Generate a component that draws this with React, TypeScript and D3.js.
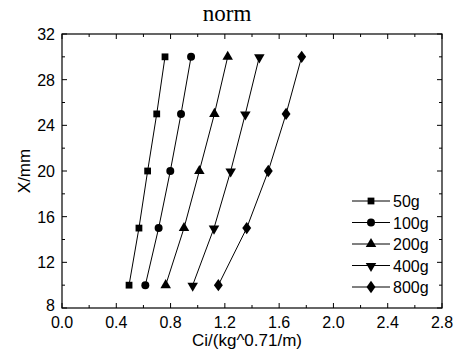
import React from "react";
import * as d3 from "d3";

const yValues = [10, 15, 20, 25, 30];
const seriesNames = ["50g", "100g", "200g", "400g", "800g"];
const s50 = [0.494, 0.567, 0.631, 0.698, 0.759];
const s100 = [0.614, 0.712, 0.798, 0.877, 0.951];
const s200 = [0.764, 0.899, 1.012, 1.123, 1.221];
const s400 = [0.963, 1.12, 1.243, 1.351, 1.454];
const s800 = [1.152, 1.361, 1.52, 1.651, 1.766];
const seriesValues = [s50, s100, s200, s400, s800];
const xTicks = [0.0, 0.4, 0.8, 1.2, 1.6, 2.0, 2.4, 2.8];
const yTicks = [8, 12, 16, 20, 24, 28, 32];

const W = 460, H = 362;
const L = 62, R = 442, T = 34, B = 308;

const symbols = [d3.symbolSquare, d3.symbolCircle, d3.symbolTriangle, "down", d3.symbolDiamond];

function Marker({ x, y, i }: { x: number; y: number; i: number }) {
  const s = symbols[i];
  if (s === "down") {
    const p = d3.symbol(d3.symbolTriangle, 48)()!;
    return <path d={p} transform={`translate(${x},${y + 0.5}) rotate(180)`} fill="black" />;
  }
  const size = i === 0 ? 46 : i === 1 ? 50 : i === 2 ? 48 : 44;
  const p = d3.symbol(s as d3.SymbolType, size)()!;
  return <path d={p} transform={`translate(${x},${y})${i === 4 ? " scale(1.25,1)" : ""}`} fill="black" />;
}

export default function App() {
  const x = d3.scaleLinear().domain([0, 2.8]).range([L, R]);
  const y = d3.scaleLinear().domain([8, 32]).range([B, T]);
  const line = d3.line<[number, number]>().x((d) => x(d[0])).y((d) => y(d[1]));
  const xMinor = d3.range(0, 2.81, 0.2);
  const yMinor = d3.range(8, 32.1, 2);
  const font = "Arial, 'Liberation Sans', sans-serif";
  return (
    <svg width={W} height={H} style={{ position: "absolute", left: 0, top: 0 }}>
      <rect width={W} height={H} fill="white" />
      <text x={227} y={21} textAnchor="middle" fontFamily="'Liberation Serif', 'Times New Roman', serif" fontSize={23}>norm</text>
      {xMinor.map((v, i) => {
        const len = i % 2 === 0 ? 5 : 3;
        return (
          <g key={"xt" + i} stroke="black" strokeWidth={1}>
            <line x1={x(v)} x2={x(v)} y1={B} y2={B - len} />
            <line x1={x(v)} x2={x(v)} y1={T} y2={T + len} />
          </g>
        );
      })}
      {yMinor.map((v, i) => {
        const len = i % 2 === 0 ? 5 : 3;
        return (
          <g key={"yt" + i} stroke="black" strokeWidth={1}>
            <line x1={L} x2={L + len} y1={y(v)} y2={y(v)} />
            <line x1={R} x2={R - len} y1={y(v)} y2={y(v)} />
          </g>
        );
      })}
      <rect x={L} y={T} width={R - L} height={B - T} fill="none" stroke="black" strokeWidth={1.2} />
      {xTicks.map((v) => (
        <text key={"xl" + v} x={x(v)} y={328} textAnchor="middle" fontFamily={font} fontSize={16}>{v.toFixed(1)}</text>
      ))}
      {yTicks.map((v) => (
        <text key={"yl" + v} x={55} y={v === 8 ? y(v) + 3 : y(v) + 6} textAnchor="end" fontFamily={font} fontSize={16}>{v}</text>
      ))}
      <text x={247} y={346} textAnchor="middle" fontFamily={font} fontSize={17}>Ci/(kg^0.71/m)</text>
      <text transform={`translate(29.5,171) rotate(-90)`} textAnchor="middle" fontFamily={font} fontSize={17}>X/mm</text>
      {seriesValues.map((vals, i) => {
        const pts = vals.map((v, j) => [v, yValues[j]] as [number, number]);
        return (
          <g key={"s" + i}>
            <path d={line(pts)!} fill="none" stroke="black" strokeWidth={1} />
            {pts.map((p, j) => (
              <Marker key={j} x={x(p[0])} y={y(p[1])} i={i} />
            ))}
          </g>
        );
      })}
      {seriesNames.map((n, i) => {
        const ly = 201 + i * 21.5;
        return (
          <g key={"lg" + i}>
            <line x1={352} x2={390} y1={ly} y2={ly} stroke="black" strokeWidth={1} />
            <Marker x={371} y={ly} i={i} />
            <text x={393} y={ly + 6} fontFamily={font} fontSize={16}>{n}</text>
          </g>
        );
      })}
    </svg>
  );
}
